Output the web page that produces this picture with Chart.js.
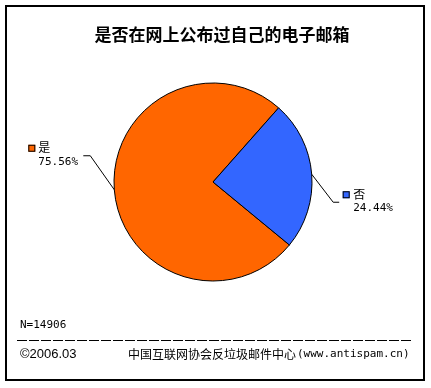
<!DOCTYPE html>
<html>
<head>
<meta charset="utf-8">
<script src="https://cdn.jsdelivr.net/npm/chart.js@4"></script>
<style>
  html, body { margin: 0; padding: 0; background: #fff; }
  #wrap { width: 431px; height: 388px; }
</style>
</head>
<body>
<div id="wrap"><canvas id="pieChart" width="431" height="388"></canvas></div>
<script>
const labels = ["是", "否"];
const shares = [75.56, 24.44];
const sliceColors = ["#FF6600", "#3366FF"];
const titleText = "是否在网上公布过自己的电子邮箱";
const sampleNote = "N=14906";
const dateNote = "©2006.03";
const sourceNote = "中国互联网协会反垃圾邮件中心";
const sourceSite = "(www.antispam.cn)";

const CJK = '"Noto Sans CJK SC", sans-serif';
const MONO = '"DejaVu Sans Mono", monospace';

// frame, title and footer texts
const framePlugin = {
  id: "frame",
  beforeDraw(chart) {
    const ctx = chart.ctx;
    ctx.save();
    ctx.fillStyle = "#fff";
    ctx.fillRect(0, 0, chart.width, chart.height);
    ctx.strokeStyle = "#000";
    ctx.lineWidth = 2;
    ctx.strokeRect(6, 6, 418, 374);

    ctx.fillStyle = "#000";
    ctx.textBaseline = "middle";
    ctx.textAlign = "center";
    ctx.font = "bold 17px " + CJK;
    ctx.fillText(titleText, 222, 35);

    ctx.textAlign = "left";
    ctx.font = "11px " + MONO;
    ctx.fillText(sampleNote, 20, 325);

    ctx.lineWidth = 1;
    ctx.setLineDash([10, 2]);
    ctx.beginPath();
    ctx.moveTo(17, 340.5);
    ctx.lineTo(411, 340.5);
    ctx.stroke();
    ctx.setLineDash([]);

    ctx.font = "13px 'Liberation Sans', Arial, sans-serif";
    ctx.fillText(dateNote, 20, 354);
    ctx.font = "12px " + CJK;
    ctx.fillText(sourceNote, 128, 354);
    const w = ctx.measureText(sourceNote).width;
    ctx.font = "11px " + MONO;
    ctx.fillText(sourceSite, 128 + w + 1, 354);
    ctx.restore();
  }
};

// leader lines and slice labels
const labelPlugin = {
  id: "sliceLabels",
  afterDatasetsDraw(chart) {
    const ctx = chart.ctx;
    const meta = chart.getDatasetMeta(0);
    ctx.save();
    meta.data.forEach((arc, i) => {
      const mid = (arc.startAngle + arc.endAngle) / 2;
      const ex = arc.x + Math.cos(mid) * arc.outerRadius;
      const ey = arc.y + Math.sin(mid) * arc.outerRadius;
      const left = Math.cos(mid) < 0;
      const kx = left ? ex - 24 : ex + 21.5;
      const ky = left ? ey - 34 : ey + 28;
      const endX = left ? kx - 7 : kx + 6;
      ctx.strokeStyle = "#000";
      ctx.lineWidth = 1;
      ctx.beginPath();
      ctx.moveTo(ex, ey);
      ctx.lineTo(kx, ky);
      ctx.lineTo(endX, ky);
      ctx.stroke();

      const sqX = left ? endX - 55 : endX + 3.5;
      const sqY = ky - 11;
      ctx.fillStyle = sliceColors[i];
      ctx.fillRect(sqX, sqY, 7, 7);
      ctx.strokeRect(sqX + 0.5, sqY + 0.5, 6, 6);

      const tx = left ? endX - 45 : endX + 14;
      ctx.fillStyle = "#000";
      ctx.textAlign = "left";
      ctx.textBaseline = "middle";
      ctx.font = "12px " + CJK;
      ctx.fillText(labels[i], tx, ky - 8);
      ctx.font = "11px " + MONO;
      ctx.fillText(shares[i].toFixed(2) + "%", tx, ky + 6);
    });
    ctx.restore();
  }
};

new Chart(document.getElementById("pieChart"), {
  type: "pie",
  data: {
    labels: labels,
    datasets: [{
      data: shares,
      backgroundColor: sliceColors,
      borderColor: "#000",
      borderWidth: 1,
      radius: 99
    }]
  },
  options: {
    responsive: false,
    animation: false,
    rotation: 129.5,
    layout: { padding: { left: 100, right: 105, top: 80, bottom: 104 } },
    plugins: {
      legend: { display: false },
      tooltip: { enabled: false },
      title: { display: false }
    }
  },
  plugins: [framePlugin, labelPlugin]
});
</script>
</body>
</html>
